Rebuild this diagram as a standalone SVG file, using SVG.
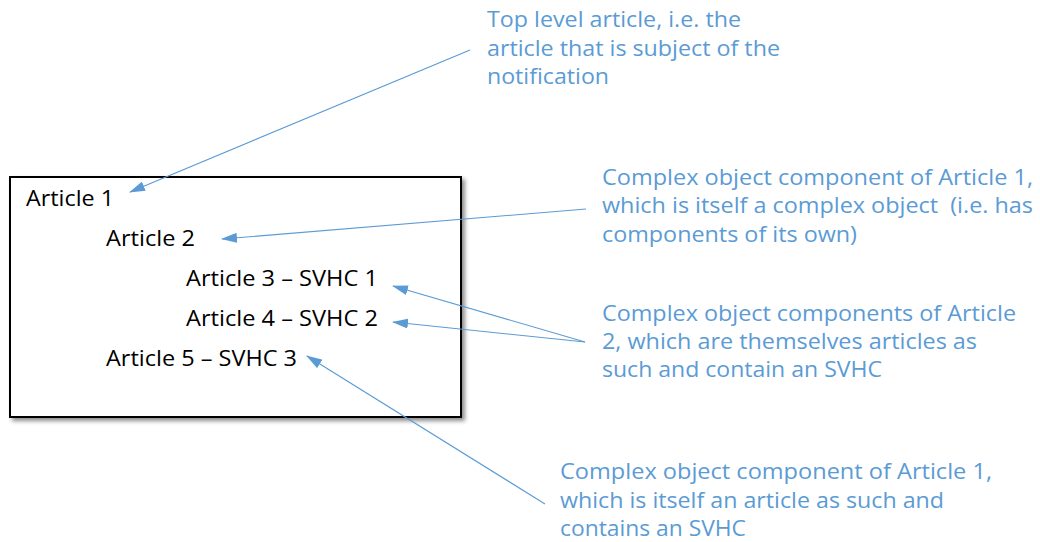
<svg xmlns="http://www.w3.org/2000/svg" width="1040" height="542" viewBox="0 0 1040 542">
  <style>
    .item { font-family: "Open Sans", "Liberation Sans", sans-serif; font-size: 22px; fill: #000000; }
    .note { font-family: "Open Sans", "Liberation Sans", sans-serif; font-size: 22px; fill: #5B9BD5; white-space: pre; }
    .link { stroke: #5B9BD5; stroke-width: 1.1; fill: none; marker-end: url(#head); }
  </style>
  <defs>
    <marker id="head" viewBox="0 0 16 10" refX="15" refY="5" markerWidth="16" markerHeight="10" markerUnits="userSpaceOnUse" orient="auto">
      <path d="M0,0 L16,5 L0,10 Z" fill="#5B9BD5"/>
    </marker>
    <filter id="shadow" x="-5%" y="-5%" width="115%" height="115%">
      <feDropShadow dx="3" dy="3" stdDeviation="2" flood-color="#000000" flood-opacity="0.45"/>
    </filter>
  </defs>
  <rect width="1040" height="542" fill="#ffffff"/>

  <!-- article hierarchy box -->
  <g id="article-box">
    <rect x="10" y="177" width="451" height="240" fill="#ffffff" stroke="#000000" stroke-width="2" filter="url(#shadow)"/>
    <text class="item" x="26" y="206" textLength="88" lengthAdjust="spacingAndGlyphs">Article 1</text>
    <text class="item" x="106" y="246" textLength="89" lengthAdjust="spacingAndGlyphs">Article 2</text>
    <text class="item" x="186" y="286" textLength="192" lengthAdjust="spacingAndGlyphs">Article 3 – SVHC 1</text>
    <text class="item" x="186" y="326" textLength="192" lengthAdjust="spacingAndGlyphs">Article 4 – SVHC 2</text>
    <text class="item" x="106" y="366" textLength="191" lengthAdjust="spacingAndGlyphs">Article 5 – SVHC 3</text>
  </g>

  <!-- annotations -->
  <g id="note-top-level">
    <text class="note" x="487" y="27" textLength="254" lengthAdjust="spacingAndGlyphs">Top level article, i.e. the</text>
    <text class="note" x="487" y="56" textLength="293" lengthAdjust="spacingAndGlyphs">article that is subject of the</text>
    <text class="note" x="487" y="84" textLength="122" lengthAdjust="spacingAndGlyphs">notification</text>
  </g>
  <g id="note-article-2">
    <text class="note" x="602" y="185" textLength="431" lengthAdjust="spacingAndGlyphs">Complex object component of Article 1,</text>
    <text class="note" x="602" y="213" textLength="431" lengthAdjust="spacingAndGlyphs" xml:space="preserve">which is itself a complex object  (i.e. has</text>
    <text class="note" x="602" y="242" textLength="255" lengthAdjust="spacingAndGlyphs">components of its own)</text>
  </g>
  <g id="note-articles-3-4">
    <text class="note" x="602" y="321" textLength="414" lengthAdjust="spacingAndGlyphs">Complex object components of Article</text>
    <text class="note" x="602" y="349" textLength="375" lengthAdjust="spacingAndGlyphs">2, which are themselves articles as</text>
    <text class="note" x="602" y="377" textLength="280" lengthAdjust="spacingAndGlyphs">such and contain an SVHC</text>
  </g>
  <g id="note-article-5">
    <text class="note" x="560" y="479" textLength="432" lengthAdjust="spacingAndGlyphs">Complex object component of Article 1,</text>
    <text class="note" x="560" y="508" textLength="384" lengthAdjust="spacingAndGlyphs">which is itself an article as such and</text>
    <text class="note" x="560" y="536" textLength="186" lengthAdjust="spacingAndGlyphs">contains an SVHC</text>
  </g>

  <!-- connectors -->
  <g id="connectors">
    <line class="link" x1="470" y1="50" x2="130" y2="192"/>
    <line class="link" x1="586" y1="209" x2="222" y2="239"/>
    <line class="link" x1="585" y1="342" x2="393" y2="286"/>
    <line class="link" x1="585" y1="342" x2="393" y2="322"/>
    <line class="link" x1="545" y1="504" x2="307" y2="356"/>
  </g>
</svg>
